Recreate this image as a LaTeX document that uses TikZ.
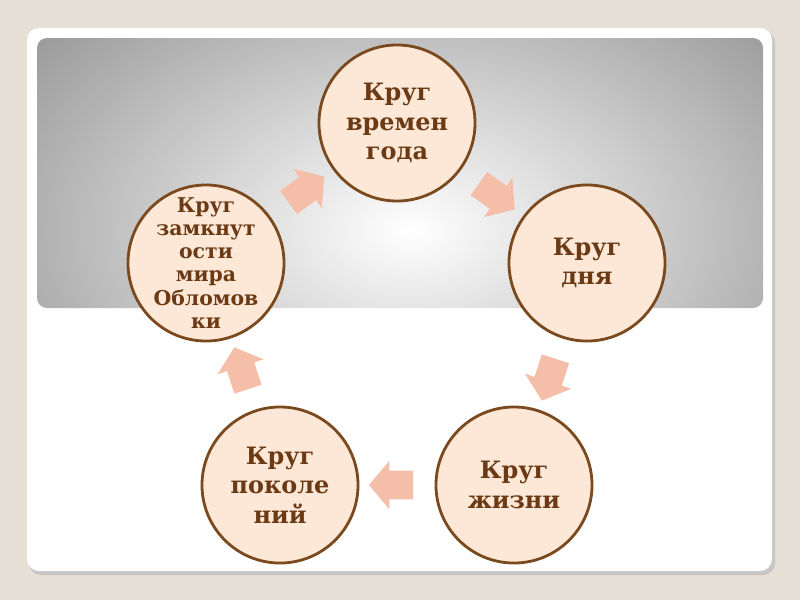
\documentclass[tikz,border=0pt]{standalone}
\usepackage{fontspec}
\setmainfont{DejaVu Serif}
\usetikzlibrary{shapes.arrows, calc}
\definecolor{slide}{HTML}{E5DFD5}
\definecolor{peach}{HTML}{FDE8D7}
\definecolor{rim}{HTML}{7A4A1E}
\definecolor{ink}{HTML}{6B3A14}
\definecolor{salmon}{HTML}{F5BEA8}

\begin{document}
\begin{tikzpicture}[
  x=0.025cm, y=-0.025cm,
  circ/.style={circle, draw=rim, fill=peach, line width=2pt, minimum size=3.9cm,
    inner sep=0pt, align=center, text=ink, font=\bfseries\fontsize{17}{21}\selectfont},
  arr/.style={single arrow, fill=salmon, draw=none, minimum height=1.1cm,
    inner xsep=0pt, inner ysep=0.35cm, single arrow head extend=0.25cm,
    single arrow tip angle=100}
]
  % background and panel
  \fill[slide] (0,0) rectangle (800,600);
  \fill[black!22, rounded corners=0.3cm] (29,31) rectangle (775,575);
  \fill[white, rounded corners=0.3cm] (27,28) rectangle (772,571);
  \begin{scope}
    \clip[rounded corners=0.25cm] (37,38) rectangle (763,308);
    \shade[inner color=white, outer color=black!40] (410,230) ellipse (490 and 310);
  \end{scope}

  \node[circ] (year) at (397,123) {Круг\\времен\\года};
  \node[circ] (day) at (587,263) {Круг\\дня};
  \node[circ] (life) at (514,485) {Круг\\жизни};
  \node[circ] (gen) at (280,485) {Круг\\поколе\\ний};
  \node[circ, inner sep=-0.3cm, font=\bfseries\fontsize{14.5}{16.4}\selectfont] (oblom)
    at (206,263) {Круг\\замкнут\\ости\\мира\\Обломов\\ки};

  \node[arr, rotate=36] (a1) at ($(oblom)!0.5!(year)$) {};
  \node[arr, rotate=-36] (a2) at ($(year)!0.5!(day)$) {};
  \node[arr, rotate=-108] (a3) at ($(day)!0.5!(life)$) {};
  \node[arr, rotate=180] (a4) at ($(life)!0.5!(gen)$) {};
  \node[arr, rotate=108] (a5) at ($(gen)!0.5!(oblom)$) {};
\end{tikzpicture}
\end{document}
